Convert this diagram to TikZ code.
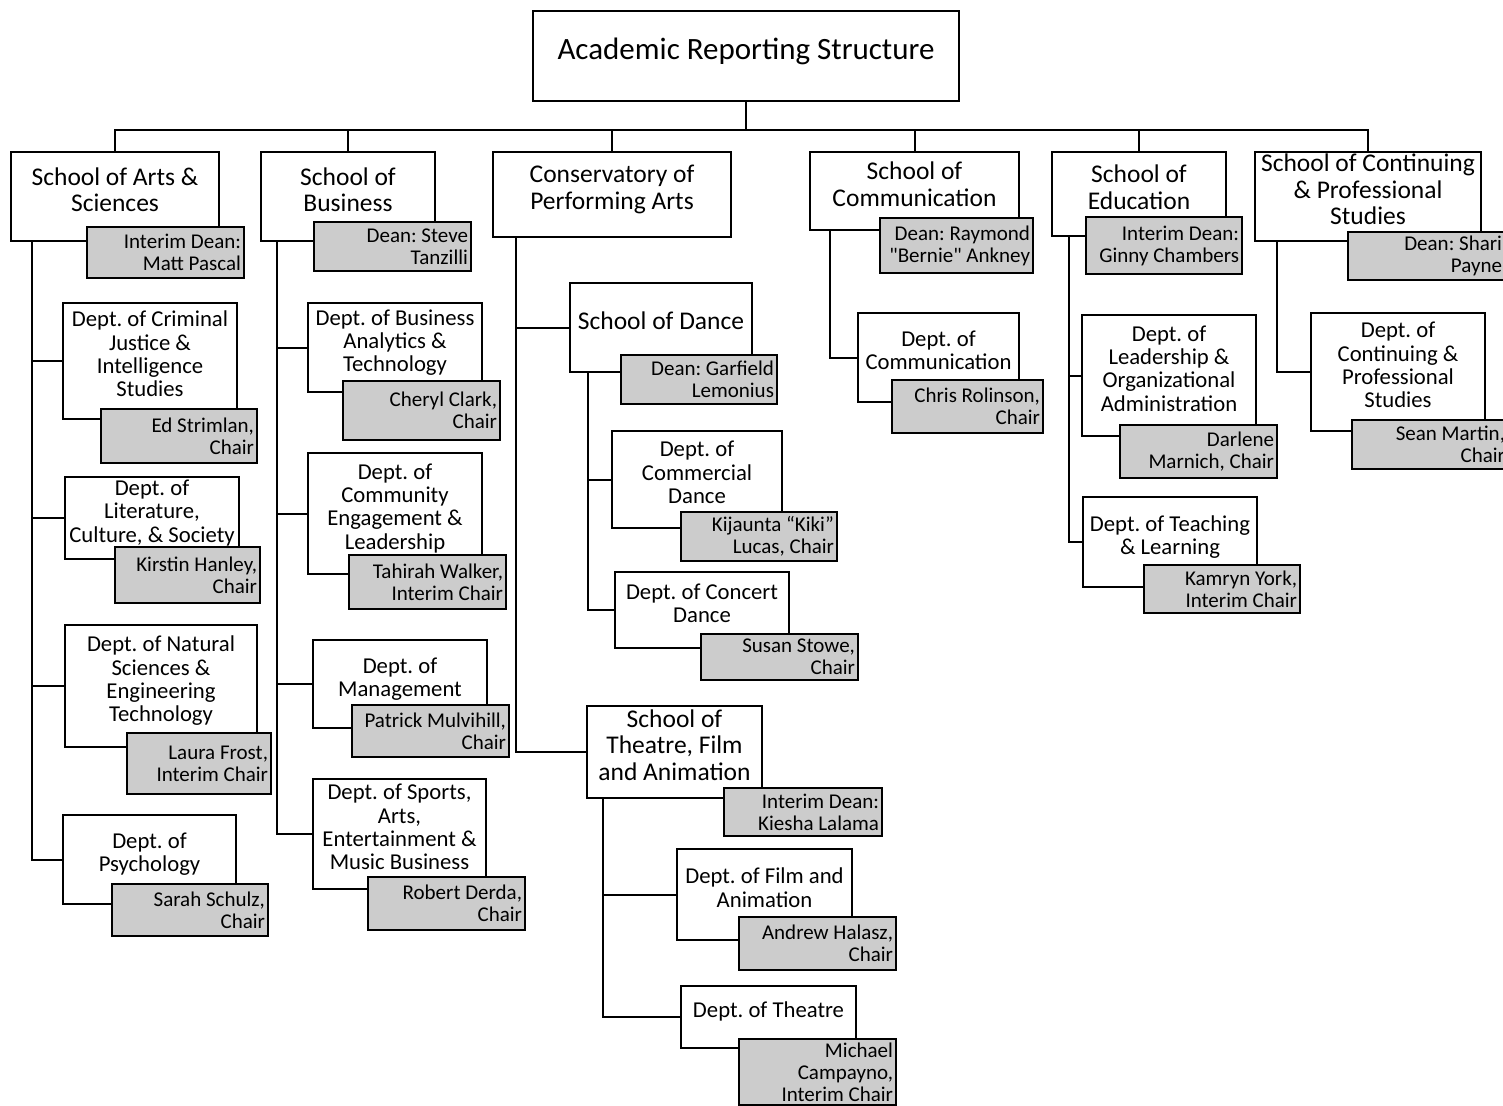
\documentclass[tikz,border=0pt]{standalone}
\usepackage{fontspec}
\setmainfont{Carlito}[Ligatures=TeXOff]
\definecolor{GrisCargo}{HTML}{CCCCCC}
\newcommand{\raisetext}{\rule[-14pt]{0pt}{0pt}}
\frenchspacing

\begin{document}
\begin{tikzpicture}[x=1pt,y=-1pt,
        unit/.style={draw,line width=2pt,fill=white,inner sep=1pt,align=center,font=\fontsize{22.7}{23.3}\selectfont},
        school/.style={unit,font=\fontsize{25.5}{26.5}\selectfont},
        top/.style={unit,font=\fontsize{31}{34}\selectfont},
        chair/.style={draw,line width=2pt,fill=GrisCargo,inner xsep=3pt,inner ysep=1pt,align=flush right,font=\fontsize{21}{22}\selectfont},
        link/.style={line width=2pt}]
        \useasboundingbox (0,0) rectangle (1503,1105);
        \clip (0,0) rectangle (1503,1105);
        \node[top,minimum width=426,minimum height=90] (title) at (746,56) {Academic Reporting Structure\raisetext};
        % schools
        \node[school,minimum width=208,minimum height=89] (arts) at (115,196.5) {School of Arts \&\\Sciences\raisetext};
        \node[school,minimum width=174,minimum height=89] (business) at (348,196.5) {School of\\Business\raisetext};
        \node[school,minimum width=238,minimum height=85] (conservatory) at (612,194.5) {Conservatory of\\Performing Arts\raisetext};
        \node[school,minimum width=209,minimum height=78] (communication) at (914.5,191) {School of\\Communication\raisetext};
        \node[school,minimum width=174,minimum height=84] (education) at (1139,194) {School of\\Education\raisetext};
        \node[school,minimum width=226,minimum height=89] (continuing) at (1368,196.5) {School of Continuing\\\& Professional\\Studies\raisetext};
        \node[chair,text width=151,minimum height=51] (artsdean) at (165.5,252.5) {Interim Dean:\\Matt Pascal};
        \node[chair,text width=151,minimum height=49] (businessdean) at (392.5,246.5) {Dean: Steve\\Tanzilli};
        \node[chair,text width=147,minimum height=55] (commdean) at (956.5,245.5) {Dean: Raymond\\"Bernie" Ankney};
        \node[chair,text width=150,minimum height=57] (educdean) at (1164,245.5) {Interim Dean:\\Ginny Chambers};
        \node[chair,text width=151,minimum height=48] (contdean) at (1426.5,256) {Dean: Shari\\Payne};
        % arts & sciences
        \node[unit,minimum width=174,minimum height=116] (crim) at (150,361) {Dept. of Criminal\\Justice \&\\Intelligence\\Studies\raisetext};
        \node[chair,text width=150,minimum height=54] (crimchair) at (179,436) {Ed Strimlan,\\Chair};
        \node[unit,minimum width=174,minimum height=82] (lit) at (152,518) {Dept. of\\Literature,\\Culture, \& Society\raisetext};
        \node[chair,text width=139,minimum height=56] (litchair) at (187.5,575) {Kirstin Hanley,\\Chair};
        \node[unit,minimum width=192,minimum height=122] (nat) at (161,686) {Dept. of Natural\\Sciences \&\\Engineering\\Technology\raisetext};
        \node[chair,text width=138,minimum height=61] (natchair) at (199,763.5) {Laura Frost,\\Interim Chair};
        \node[unit,minimum width=173,minimum height=89] (psych) at (149.5,859.5) {Dept. of\\Psychology\raisetext};
        \node[chair,text width=150,minimum height=52] (psychchair) at (190,910) {Sarah Schulz,\\Chair};
        % business
        \node[unit,minimum width=174,minimum height=89] (analytics) at (395,347.5) {Dept. of Business\\Analytics \&\\Technology\raisetext};
        \node[chair,text width=151,minimum height=59] (analyticschair) at (421.5,410.5) {Cheryl Clark,\\Chair};
        \node[unit,minimum width=174,minimum height=121] (engage) at (395,513.5) {Dept. of\\Community\\Engagement \&\\Leadership\raisetext};
        \node[chair,text width=151,minimum height=54] (engagechair) at (427.5,582) {Tahirah Walker,\\Interim Chair};
        \node[unit,minimum width=174,minimum height=88] (mgmt) at (400,684) {Dept. of\\Management\raisetext};
        \node[chair,text width=151,minimum height=52] (mgmtchair) at (430.5,731) {Patrick Mulvihill,\\Chair};
        \node[unit,minimum width=173,minimum height=110] (sports) at (399.5,834) {Dept. of Sports,\\Arts,\\Entertainment \&\\Music Business\raisetext};
        \node[chair,text width=151,minimum height=53] (sportschair) at (446.5,903.5) {Robert Derda,\\Chair};
        % conservatory
        \node[school,minimum width=182,minimum height=89] (dance) at (661,327.5) {School of Dance\raisetext};
        \node[chair,text width=150,minimum height=49] (dancedean) at (699,379.5) {Dean: Garfield\\Lemonius};
        \node[unit,minimum width=170,minimum height=97] (commercial) at (697,479.5) {Dept. of\\Commercial\\Dance\raisetext};
        \node[chair,text width=150,minimum height=49] (commercialchair) at (759,536.5) {Kijaunta “Kiki”\\Lucas, Chair};
        \node[unit,minimum width=174,minimum height=76] (concert) at (702,610) {Dept. of Concert\\Dance\raisetext};
        \node[chair,text width=151,minimum height=46] (concertchair) at (779.5,657) {Susan Stowe,\\Chair};
        \node[school,minimum width=175,minimum height=92] (theatreschool) at (674.5,752) {School of\\Theatre, Film\\and Animation\raisetext};
        \node[chair,text width=152,minimum height=48] (theatredean) at (803,812) {Interim Dean:\\Kiesha Lalama};
        \node[unit,minimum width=175,minimum height=91] (film) at (764.5,894.5) {Dept. of Film and\\Animation\raisetext};
        \node[chair,text width=151,minimum height=53] (filmchair) at (817.5,943.5) {Andrew Halasz,\\Chair};
        \node[unit,minimum width=175,minimum height=62] (theatre) at (768.5,1017) {Dept. of Theatre\raisetext};
        \node[chair,text width=151,minimum height=66] (theatrechair) at (817.5,1072) {Michael\\Campayno,\\Interim Chair};
        % communication
        \node[unit,minimum width=161,minimum height=89] (commdept) at (938.5,357.5) {Dept. of\\Communication\raisetext};
        \node[chair,text width=145,minimum height=53] (commdeptchair) at (967.5,406.5) {Chris Rolinson,\\Chair};
        % education
        \node[unit,minimum width=174,minimum height=121] (leadership) at (1169,375.5) {Dept. of\\Leadership \&\\Organizational\\Administration\raisetext};
        \node[chair,text width=151,minimum height=53] (leadershipchair) at (1198.5,451.5) {Darlene\\Marnich, Chair};
        \node[unit,minimum width=174,minimum height=90] (teaching) at (1170,542) {Dept. of Teaching\\\& Learning\raisetext};
        \node[chair,text width=150,minimum height=48] (teachingchair) at (1222,589) {Kamryn York,\\Interim Chair};
        % continuing
        \node[unit,minimum width=174,minimum height=118] (contdept) at (1398,372) {Dept. of\\Continuing \&\\Professional\\Studies\raisetext};
        \node[chair,text width=150,minimum height=49] (contdeptchair) at (1430,444.5) {Sean Martin,\\Chair};
        % connectors
        \foreach \s in {arts,business,conservatory,communication,education,continuing}
          \draw[link] (title.south) |- ([yshift=21]\s.north) -- (\s.north);
        \foreach \d in {crim,lit,nat,psych}
          \draw[link] ([xshift=22]arts.south west) |- (\d.west);
        \foreach \d in {analytics,engage,mgmt,sports}
          \draw[link] ([xshift=17]business.south west) |- (\d.west);
        \foreach \d in {dance,theatreschool}
          \draw[link] ([xshift=24]conservatory.south west) |- (\d.west);
        \foreach \d in {commercial,concert}
          \draw[link] ([xshift=19]dance.south west) |- (\d.west);
        \foreach \d in {film,theatre}
          \draw[link] ([xshift=17]theatreschool.south west) |- (\d.west);
        \draw[link] ([xshift=21]communication.south west) |- (commdept.west);
        \foreach \d in {leadership,teaching}
          \draw[link] ([xshift=18]education.south west) |- (\d.west);
        \draw[link] ([xshift=23]continuing.south west) |- (contdept.west);
      \end{tikzpicture}
\end{document}
